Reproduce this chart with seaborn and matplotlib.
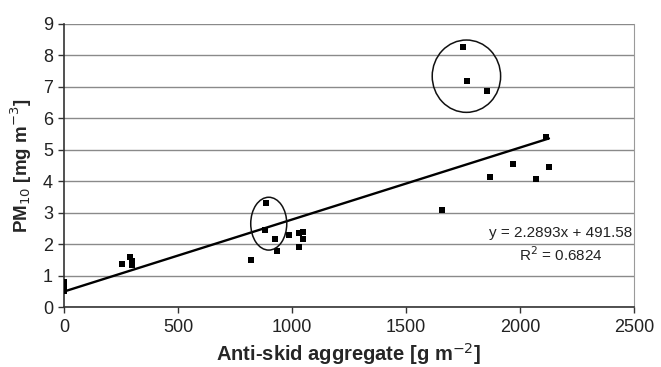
import numpy as np
import pandas as pd
import matplotlib
matplotlib.use("Agg")
import matplotlib.pyplot as plt
from matplotlib.patches import Ellipse
import seaborn as sns

# data
aggregate = [0, 0, 0, 0, 255, 290, 300, 300, 820, 882, 885, 925, 935, 985,
             1030, 1030, 1050, 1050, 1660, 1750, 1768, 1855, 1867, 1969,
             2070, 2112, 2127]
pm10 = [0.8, 0.7, 0.6, 0.5, 1.38, 1.6, 1.45, 1.33, 1.5, 2.45, 3.3, 2.15, 1.77,
        2.3, 2.35, 1.92, 2.4, 2.15, 3.09, 8.27, 7.2, 6.86, 4.15, 4.55,
        4.08, 5.4, 4.45]

# trend line from the printed equation (ug -> mg)
slope = 2.2893
intercept = 491.58
r2 = 0.6824

# circled groups: (x centre, y centre, width, height)
circles = [(1765, 7.34, 300, 2.3), (898, 2.65, 158, 1.68)]

df = pd.DataFrame({"agg": aggregate, "pm": pm10})

sns.set_style("white")
plt.rcParams["font.family"] = ["Liberation Sans", "DejaVu Sans"]

fig = plt.figure(figsize=(6.61, 3.67), dpi=100)
ax = fig.add_axes([64 / 661, 60 / 367, 570 / 661, 283 / 367])

ax.set_xlim(0, 2500)
ax.set_ylim(0, 9)
ax.set_yticks(range(0, 10))
ax.set_xticks(range(0, 2501, 500))
ax.grid(axis="y", color="#8a8a8a", linewidth=1.0)
ax.set_axisbelow(True)

sns.scatterplot(data=df, x="agg", y="pm", marker="s", color="black",
                s=24, edgecolor="black", linewidth=0, ax=ax, zorder=3)

xs = np.array([0, max(aggregate)])
ax.plot(xs, (slope * xs + intercept) / 1000, color="black", linewidth=1.7, zorder=2)

for cx, cy, w, h in circles:
    ax.add_patch(Ellipse((cx, cy), w, h, fill=False, edgecolor="#111111",
                         linewidth=1.1, zorder=4))

ax.text(2180, 2.36, f"y = {slope}x + {intercept}", ha="center", va="center",
        fontsize=11, color="#222222")
ax.text(2180, 1.65, f"R$^2$ = {r2}", ha="center", va="center",
        fontsize=11, color="#222222")

for side in ["left", "bottom"]:
    ax.spines[side].set_color("#333333")
    ax.spines[side].set_linewidth(1.2)
ax.spines["right"].set_color("#9a9a9a")
ax.spines["top"].set_visible(False)

ax.tick_params(axis="both", direction="out", length=4, width=1, color="#333333",
               labelsize=13, labelcolor="#222222", left=True, bottom=True)
ax.tick_params(axis="x", pad=5)
ax.tick_params(axis="y", pad=4)

ax.set_xlabel("Anti-skid aggregate [g m$^{-2}$]", fontsize=14.5, fontweight="bold",
              labelpad=3)
ax.set_ylabel("PM$_{10}$ [mg m$^{-3}$]", fontsize=13.5, fontweight="bold", labelpad=6)

fig.savefig("out.png", dpi=100)
